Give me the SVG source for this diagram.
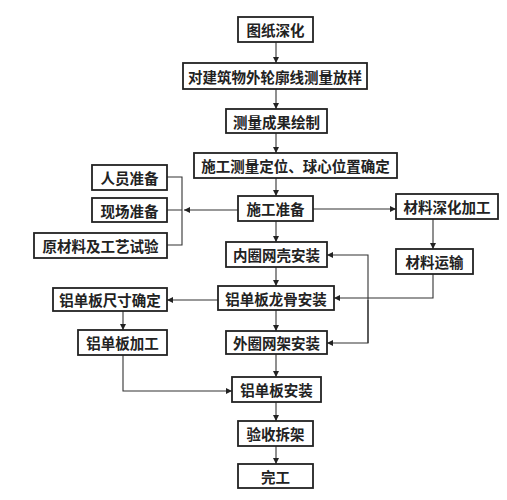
<svg xmlns="http://www.w3.org/2000/svg" width="507" height="500" viewBox="0 0 507 500">
<style>
.box{fill:#fff;stroke:#222;stroke-width:1.8}
.t{font-family:"Noto Sans CJK SC","Liberation Sans",sans-serif;font-size:14.5px;fill:#222;text-anchor:middle;dominant-baseline:central;font-weight:bold}
.c{fill:none;stroke:#333;stroke-width:1.1}
</style>
<defs>
<marker id="a" viewBox="0 0 10 10" refX="10" refY="5" markerWidth="8" markerHeight="6" markerUnits="userSpaceOnUse" orient="auto">
<path d="M0,0 L10,5 L0,10 Z" fill="#222"/>
</marker>
</defs>
<rect width="507" height="500" fill="#fff"/>
<g id="connectors">
<path class="c" d="M276,42 V63" marker-end="url(#a)"/>
<path class="c" d="M276,89 V109" marker-end="url(#a)"/>
<path class="c" d="M276,133 V153" marker-end="url(#a)"/>
<path class="c" d="M276,178 V196" marker-end="url(#a)"/>
<path class="c" d="M276,221 V242" marker-end="url(#a)"/>
<path class="c" d="M276,267 V286" marker-end="url(#a)"/>
<path class="c" d="M276,310 V331" marker-end="url(#a)"/>
<path class="c" d="M276,354 V377" marker-end="url(#a)"/>
<path class="c" d="M276,402 V421" marker-end="url(#a)"/>
<path class="c" d="M276,446 V464" marker-end="url(#a)"/>
<path class="c" d="M238,210 H184" marker-end="url(#a)"/>
<path class="c" d="M167,177 H182 V245 H167 M167,210 H182"/>
<path class="c" d="M313,209 H396" marker-end="url(#a)"/>
<path class="c" d="M433,219 V249" marker-end="url(#a)"/>
<path class="c" d="M433,274 V298 H334" marker-end="url(#a)"/>
<path class="c" d="M368,343 V255 H327" marker-end="url(#a)"/>
<path class="c" d="M368,300 V343 H327" marker-end="url(#a)"/>
<path class="c" d="M218,300 H167" marker-end="url(#a)"/>
<path class="c" d="M123,311 V330" marker-end="url(#a)"/>
<path class="c" d="M123,355 V391 H232" marker-end="url(#a)"/>
</g>
<g id="n1"><rect class="box" x="238" y="17" width="75" height="25"/><text class="t" x="275.5" y="29.5">图纸深化</text></g>
<g id="n2"><rect class="box" x="183" y="63" width="184" height="26"/><text class="t" x="275" y="76">对建筑物外轮廓线测量放样</text></g>
<g id="n3"><rect class="box" x="226" y="109" width="101" height="24"/><text class="t" x="276.5" y="121">测量成果绘制</text></g>
<g id="n4"><rect class="box" x="194" y="153" width="203" height="25"/><text class="t" x="295.5" y="165.5">施工测量定位、球心位置确定</text></g>
<g id="n5"><rect class="box" x="238" y="196" width="75" height="25"/><text class="t" x="275.5" y="208.5">施工准备</text></g>
<g id="n6"><rect class="box" x="92" y="165" width="75" height="25"/><text class="t" x="129.5" y="177.5">人员准备</text></g>
<g id="n7"><rect class="box" x="92" y="198" width="75" height="24"/><text class="t" x="129.5" y="210">现场准备</text></g>
<g id="n8"><rect class="box" x="34" y="233" width="133" height="25"/><text class="t" x="100.5" y="245.5">原材料及工艺试验</text></g>
<g id="n9"><rect class="box" x="396" y="194" width="102" height="25"/><text class="t" x="447" y="206.5">材料深化加工</text></g>
<g id="n10"><rect class="box" x="396" y="249" width="77" height="25"/><text class="t" x="434.5" y="261.5">材料运输</text></g>
<g id="n11"><rect class="box" x="226" y="242" width="101" height="25"/><text class="t" x="276.5" y="254.5">内圈网壳安装</text></g>
<g id="n12"><rect class="box" x="218" y="286" width="116" height="24"/><text class="t" x="276" y="298">铝单板龙骨安装</text></g>
<g id="n13"><rect class="box" x="53" y="288" width="114" height="23"/><text class="t" x="110" y="299.5">铝单板尺寸确定</text></g>
<g id="n14"><rect class="box" x="78" y="330" width="89" height="25"/><text class="t" x="122.5" y="342.5">铝单板加工</text></g>
<g id="n15"><rect class="box" x="226" y="331" width="101" height="23"/><text class="t" x="276.5" y="342.5">外圈网架安装</text></g>
<g id="n16"><rect class="box" x="232" y="377" width="89" height="25"/><text class="t" x="276.5" y="389.5">铝单板安装</text></g>
<g id="n17"><rect class="box" x="238" y="421" width="75" height="25"/><text class="t" x="275.5" y="433.5">验收拆架</text></g>
<g id="n18"><rect class="box" x="238" y="464" width="75" height="24"/><text class="t" x="275.5" y="476">完工</text></g>
</svg>
